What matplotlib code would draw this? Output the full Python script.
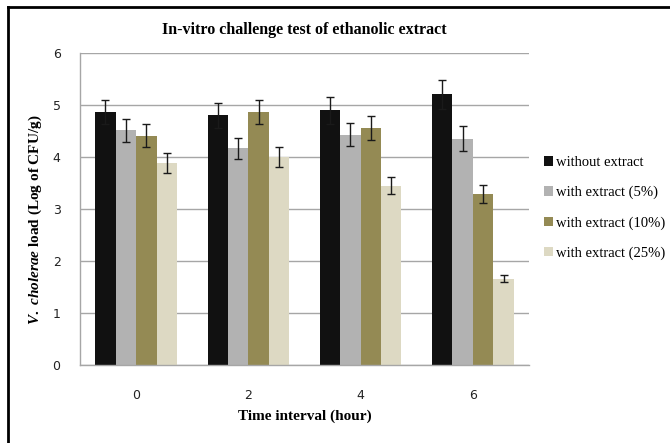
import matplotlib
matplotlib.use("Agg")
import matplotlib.pyplot as plt
import numpy as np
from matplotlib.lines import Line2D

times = ["0", "2", "4", "6"]
series = ["without extract", "with extract (5%)", "with extract (10%)", "with extract (25%)"]
without_extract = [4.86, 4.80, 4.90, 5.21]
extract_5 = [4.51, 4.17, 4.43, 4.35]
extract_10 = [4.41, 4.86, 4.56, 3.29]
extract_25 = [3.88, 4.00, 3.45, 1.66]
err_without = [0.23, 0.24, 0.26, 0.28]
err_5 = [0.22, 0.20, 0.22, 0.24]
err_10 = [0.22, 0.23, 0.23, 0.18]
err_25 = [0.19, 0.20, 0.17, 0.07]
colors = ["#111111", "#b2b2b2", "#948a54", "#ddd9c3"]

plt.rcParams['mathtext.fontset'] = 'custom'
plt.rcParams['mathtext.rm'] = 'Liberation Serif:bold'
plt.rcParams['mathtext.it'] = 'Liberation Serif:italic:bold'
plt.rcParams['mathtext.bf'] = 'Liberation Serif:bold'

fig = plt.figure(figsize=(6.7, 4.43), dpi=100)
ax = fig.add_axes([80/670, 1-365/443, (529-80)/670, (365-53)/443])

vals = [without_extract, extract_5, extract_10, extract_25]
errs = [err_without, err_5, err_10, err_25]
x = np.arange(len(times))
w = 0.182
for i, (v, e, c, lab) in enumerate(zip(vals, errs, colors, series)):
    pos = x + (i - 1.5) * w
    ax.bar(pos, v, width=w, color=c, label=lab, zorder=2)
    ax.errorbar(pos, v, yerr=e, fmt='none', ecolor='#1a1a1a', elinewidth=1,
                capsize=3, capthick=1, zorder=3)

ax.set_xlim(-0.5, 3.5)
ax.set_ylim(0, 6)
ax.set_yticks(range(0, 7))
ax.set_xticks(x)
ax.set_xticklabels(times)
ax.grid(axis='y', color='#a6a6a6', linewidth=1, zorder=0)
ax.set_axisbelow(True)
for s in ['top', 'right']:
    ax.spines[s].set_visible(False)
for s in ['left', 'bottom']:
    ax.spines[s].set_color('#a6a6a6')
    ax.spines[s].set_linewidth(1)
ax.tick_params(axis='both', length=0, labelsize=9, colors='#222222')
ax.tick_params(axis='x', pad=17)
ax.tick_params(axis='y', pad=14)

ax.set_title("In-vitro challenge test of ethanolic extract", family='Liberation Serif',
             fontweight='bold', fontsize=11.5, pad=14)
ax.set_xlabel("Time interval (hour)", family='Liberation Serif', fontweight='bold',
              fontsize=11, labelpad=6)
fig.text(35/670, 1-220/443, r"$\mathit{V.\ cholerae}$ load (Log of CFU/g)", rotation=90,
         family='Liberation Serif', fontweight='bold', fontsize=11, ha='center', va='center')

fig.legend(loc='center left', bbox_to_anchor=(544/670, 1-208/443), frameon=False,
           prop={'family': 'Liberation Serif', 'size': 10.5}, handlelength=0.6,
           handleheight=0.6, handletextpad=0.2, labelspacing=1.15, borderpad=0,
           borderaxespad=0)

fig.add_artist(Line2D([8/670, 8/670], [0, 1-7/443], color='black', linewidth=2))
fig.add_artist(Line2D([8/670, 1], [1-7/443, 1-7/443], color='black', linewidth=2))

fig.savefig("out.png", dpi=100)
